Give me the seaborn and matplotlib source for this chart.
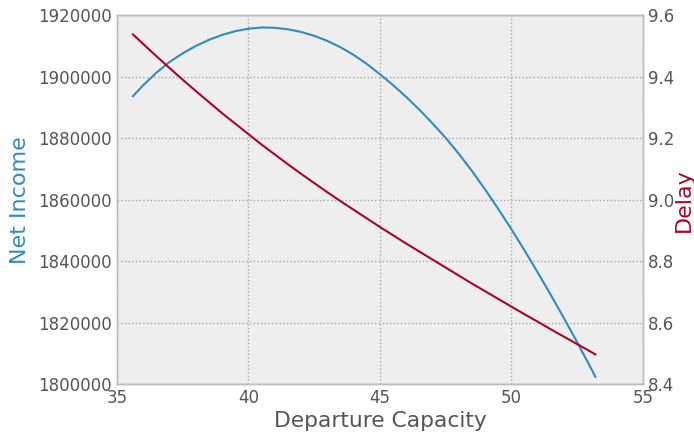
import numpy as np
import pandas as pd
import matplotlib
matplotlib.use("Agg")
import matplotlib.pyplot as plt
import seaborn as sns

# Values
capacity = [35.6, 36.0, 36.5, 37.0, 37.5, 38.0, 38.5, 39.0, 39.5, 40.0, 40.5,
            41.0, 41.5, 42.0, 42.5, 43.0, 43.5, 44.0, 44.5, 45.0, 45.5, 46.0,
            46.5, 47.0, 47.5, 48.0, 48.5, 49.0, 49.5, 50.0, 50.5, 51.0, 51.5,
            52.0, 52.5, 53.0, 53.2]
net_income = [1893600, 1897250, 1901300, 1904800, 1907600, 1910000, 1912000,
              1913600, 1914800, 1915600, 1916000, 1915900, 1915420, 1914550,
              1913290, 1911630, 1909560, 1907070, 1904150, 1900790, 1897240,
              1893390, 1889240, 1884790, 1880090, 1874900, 1869300, 1863300,
              1856950, 1850350, 1843450, 1836300, 1828950, 1821400, 1813600,
              1805550, 1802250]
delay = [9.538, 9.506, 9.4665, 9.428, 9.390, 9.353, 9.317, 9.281, 9.247, 9.213,
         9.179, 9.147, 9.115, 9.084, 9.054, 9.024, 8.995, 8.967, 8.939, 8.911,
         8.884, 8.857, 8.831, 8.805, 8.779, 8.753, 8.727, 8.702, 8.677, 8.652,
         8.627, 8.603, 8.578, 8.554, 8.530, 8.506, 8.496]

df = pd.DataFrame({"capacity": capacity, "income": net_income, "delay": delay})

blue = "#348ABD"
red = "#A60628"
gray = "#555555"

sns.set_theme(style="darkgrid", rc={
    "axes.facecolor": "#eeeeee",
    "axes.edgecolor": "#bcbcbc",
    "axes.linewidth": 1.0,
    "grid.color": "#a8a8a8",
    "grid.linestyle": ":",
    "grid.linewidth": 1.0,
    "xtick.color": gray,
    "ytick.color": gray,
    "axes.labelcolor": gray,
})
plt.rcParams["font.family"] = ["DejaVu Sans"]

fig = plt.figure(figsize=(6.94, 4.34), dpi=100)
ax = fig.add_axes([0.1686, 0.115, 0.7578, 0.85])
ax2 = ax.twinx()

sns.lineplot(data=df, x="capacity", y="income", ax=ax, color=blue, linewidth=1.5)
sns.lineplot(data=df, x="capacity", y="delay", ax=ax2, color=red, linewidth=1.5)

ax.set_xlim(35, 55)
ax.set_ylim(1800000, 1920000)
ax.set_xticks([35, 40, 45, 50, 55])
ax.set_yticks([1800000, 1820000, 1840000, 1860000, 1880000, 1900000, 1920000])
ax.ticklabel_format(axis="y", style="plain", useOffset=False)
ax2.set_ylim(8.4, 9.6)
ax2.set_yticks([8.4, 8.6, 8.8, 9.0, 9.2, 9.4, 9.6])
ax2.set_yticklabels(["8.4", "8.6", "8.8", "9.0", "9.2", "9.4", "9.6"])
ax2.grid(False)

for a in (ax, ax2):
    a.tick_params(length=0, labelsize=12, pad=3.5)
    for s in a.spines.values():
        s.set_visible(True)
        s.set_color("#bcbcbc")

ax.set_xlabel("Departure Capacity", fontsize=15.7, color=gray, labelpad=3)
ax.set_ylabel("Net Income", fontsize=16, color=blue, labelpad=6)
ax2.set_ylabel("Delay", fontsize=16, color=red, labelpad=0)

fig.savefig("out.png", dpi=100)
